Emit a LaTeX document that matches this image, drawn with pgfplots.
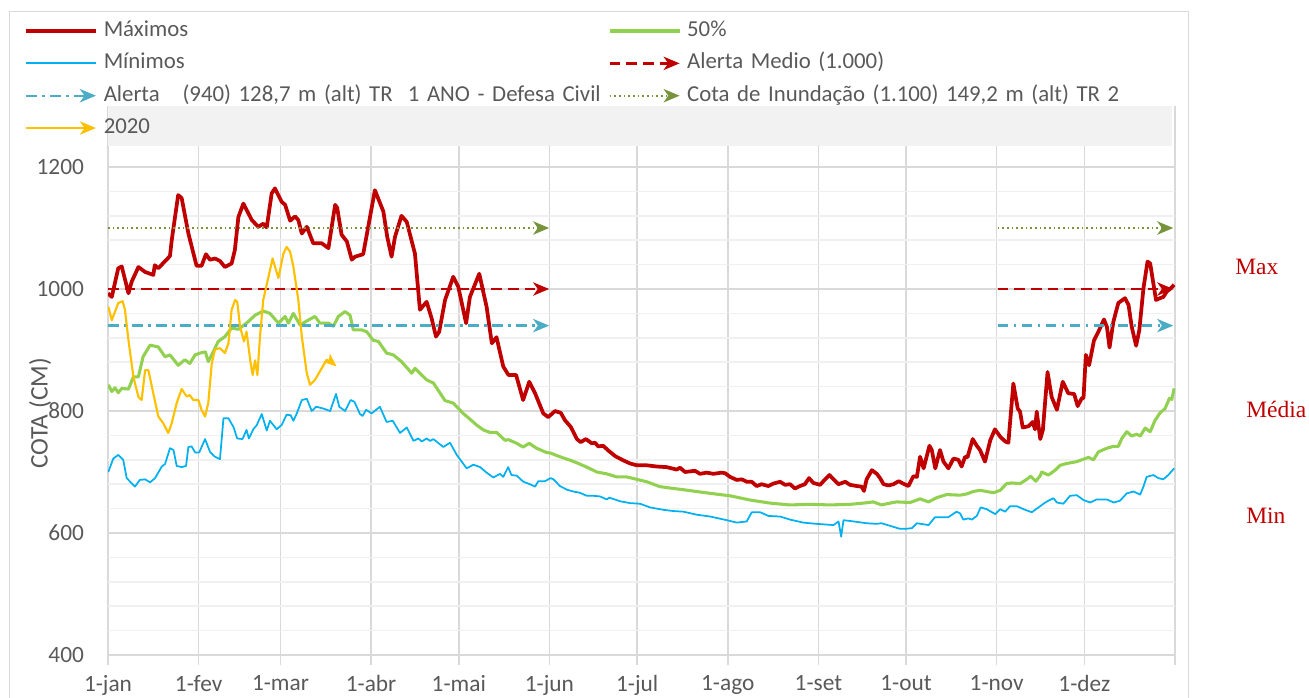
\documentclass[border=0pt]{standalone}
\usepackage{fontspec}
\setmainfont{Carlito}
\newfontfamily\timesf{Liberation Serif}
\usepackage{pgfplots}
\pgfplotsset{compat=1.18}
\usetikzlibrary{arrows.meta}
\definecolor{maxred}{HTML}{C00000}
\definecolor{medgreen}{HTML}{92D050}
\definecolor{minblue}{HTML}{00B0F0}
\definecolor{yr2020}{HTML}{FFC000}
\definecolor{alertblue}{HTML}{4BACC6}
\definecolor{olivec}{HTML}{77933C}
\definecolor{gridmajor}{HTML}{D9D9D9}
\definecolor{gridminor}{HTML}{F0F0F0}
\definecolor{legbg}{HTML}{F2F2F2}
\definecolor{txtgray}{HTML}{595959}
\begin{document}
\begin{tikzpicture}
\useasboundingbox (0,0) rectangle (981.75pt,522.75pt);
\draw[gridmajor, line width=0.75pt] (6.75pt,-5pt) rectangle (891pt,513.75pt);
\begin{axis}[
  at={(81pt,31.5pt)}, anchor=south west,
  scale only axis, width=800.25pt, height=411.75pt,
  xmin=0, xmax=365, ymin=400, ymax=1300,
  xtick={0,31,59,90,120,151,181,212,243,273,304,334,365},
  xticklabels={1-jan,1-fev,1-mar,1-abr,1-mai,1-jun,1-jul,1-ago,1-set,1-out,1-nov,1-dez,{}},
  ytick={400,600,800,1000,1200},
  minor y tick num=4,
  xmajorgrids, ymajorgrids, yminorgrids,
  major grid style={draw=gridmajor, line width=1.2pt},
  minor grid style={draw=gridminor, line width=1.2pt},
  axis line style={draw=none},
  tick align=outside, major tick length=7.5pt,
  xtick pos=bottom, ytick pos=left,
  x tick style={draw=gridmajor, line width=1.2pt},
  y tick style={draw=none},
  minor tick length=0pt,
  ticklabel style={font=\fontsize{17.5}{20}\selectfont, text=txtgray},
  yticklabel style={xshift=-7pt},
  xticklabel style={yshift=-4.5pt},
  /pgf/number format/assume math mode=true,
  /pgf/number format/1000 sep={},
  ylabel={COTA (CM)},
  ylabel style={at={(axis description cs:-0.0637,0.44)}, anchor=center, font=\fontsize{19}{22}\selectfont, text=txtgray},
  no markers,
  every axis plot/.append style={line join=round},
  legend columns=2,
  legend cell align=left,
  legend image code/.code={\draw[#1] (0pt,0pt) -- (52.5pt,0pt);},
  legend style={at={(axis description cs:-0.0787,1.156)}, anchor=north west,
    fill=none, draw=none, inner sep=0pt, outer sep=0pt,
    font=\fontsize{17.1}{20}\selectfont, text=txtgray,
    nodes={inner sep=0pt, text height=12pt, text depth=4pt, text width=358pt, align=left},
    row sep=8.25pt,
    /tikz/every odd column/.append style={column sep=4.5pt},
    /tikz/every even column/.append style={column sep=20.25pt}},
]
% Minimos
\addplot[forget plot, minblue, line width=1.3pt] coordinates {
(0.1,700) (1.8,722) (3.5,728) (5.2,720) (6.4,690) (9.2,676) (10.9,687) (12.7,688) (14.4,683) (16.1,690) (18.4,709) (19.5,713) (21.2,739) (22.4,736) (23.5,710) (25.2,708) (26.7,710) (27.5,741) (28.6,742) (29.8,732) (31.2,732) (33.2,754) (34.9,733) (36.6,725) (38.3,721) (39.5,788) (41.2,788) (42.9,774) (44.2,755) (46,754) (47.4,769) (48.2,755) (49.7,770) (50.9,777) (52.6,795) (54.3,768) (55.4,784) (57.7,770) (59.4,777) (61.1,794) (62.5,793) (63.4,784) (64.5,795) (66.3,818) (68,820) (69.7,800) (71.2,807) (73.7,804) (76,800) (78,828) (79.1,807) (81.1,800) (83,818) (84.3,815) (86.2,795) (87.1,792) (88.3,802) (90.2,796) (93,807) (95.3,782) (97.4,784) (99.9,764) (102.2,773) (104.5,751) (106.2,755) (107.3,750) (109,755) (110.2,751) (111.3,754) (114.7,741) (117,748) (119.3,728) (122.7,706) (125,712) (127.3,708) (129.5,699) (131.8,691) (134.1,697) (135.2,692) (136.9,708) (138,695) (139.8,694) (142.1,684) (144.3,680) (146.1,676) (147.2,685) (149.5,685) (151.4,690) (152.4,688) (154.6,677) (157,671) (159.2,668) (161.4,666) (163.8,661) (166,661) (168.3,660) (170.6,655) (171.5,658) (175.2,652) (178.6,649) (182,648) (185.4,642) (190,638) (193.4,636) (196.8,635) (201.4,630) (206,627) (211.7,621) (215.1,617) (218.5,619) (220.2,634) (223.1,634) (225.9,628) (229.9,627) (233.3,622) (237.9,617) (242.4,615) (248.2,613) (249.9,619) (250.8,594) (251.6,621) (255,619) (259.5,616) (262.9,615) (264.6,616) (267.4,612) (270.8,607) (273.2,607) (275,608) (276.7,616) (280.7,613) (282.9,626) (287.5,626) (290.3,635) (291.5,632) (292.6,622) (294.3,624) (295.5,622) (297.2,628) (298.5,642) (300.6,639) (303.5,631) (305.2,639) (306.9,635) (308.6,644) (310.9,644) (313.2,639) (316,634) (317.7,640) (318.9,644) (320,648) (321.7,653) (323.4,657) (324.6,650) (326.8,648) (329.1,661) (331.4,662) (333.7,654) (336,650) (338.2,655) (341.7,655) (344,650) (346.2,653) (348.5,665) (350.8,668) (353.1,663) (354.2,676) (355.3,692) (357.6,695) (359.3,690) (361,688) (362.7,695) (364.7,706)
};
% 50%
\addplot[forget plot, medgreen, line width=2.3pt] coordinates {
(0.1,843) (1.3,832) (2.4,838) (3.5,830) (4.7,837) (7,836) (8.7,856) (10.4,856) (12,889) (14.4,908) (17.2,905) (19.5,889) (21.2,892) (24,875) (26.3,884) (28,878) (29.8,892) (31.5,895) (33.3,897) (34.3,881) (36,897) (37.7,914) (40,922) (42.3,936) (44.6,934) (47.4,944) (50.3,957) (53.1,964) (55.4,960) (58.3,944) (60.6,955) (61.7,944) (63.4,960) (65.7,941) (68.5,949) (70.8,955) (72.5,944) (75.4,944) (77.1,939) (78.8,955) (81.1,963) (82.8,957) (83.9,933) (86.8,933) (88.5,930) (90.7,916) (92.5,914) (95.3,895) (97.6,892) (100.4,881) (103.9,862) (105,870) (107.3,859) (109,851) (111.3,846) (115.3,817) (118.1,813) (121.5,796) (123,790) (126.1,777) (128.4,769) (130.6,765) (132.9,765) (135.8,752) (137,753) (139.8,747) (142,741) (144.1,747) (146.6,739) (150,732) (151.4,731) (154.6,725) (158.3,719) (160.4,715) (163.8,708) (167.2,700) (170.6,697) (174,692) (177.4,692) (180.9,688) (184.3,684) (188.8,676) (193.4,673) (196.8,671) (201.4,668) (206,665) (212.8,661) (219.7,654) (226.5,649) (233.3,646) (240.2,647) (247,646) (253.8,647) (258.4,649) (261.8,651) (264.6,646) (267.5,649) (269.8,651) (274.4,650) (277.8,656) (280.7,651) (283.5,658) (286.9,663) (291.5,662) (293.7,664) (296,668) (298.3,670) (300.6,668) (302.9,666) (305.2,670) (307.4,681) (309.1,682) (312,681) (314.3,688) (315.6,693) (317.4,685) (318.9,694) (319.4,700) (321.7,695) (324,703) (325.7,711) (328,714) (331.4,717) (333.7,721) (335.4,724) (337.1,720) (338.8,733) (341.7,739) (343.9,742) (345.6,742) (346.8,755) (348.5,766) (350.2,759) (351.9,762) (353.1,759) (354.8,772) (356.5,766) (358.2,785) (359.9,797) (361.6,804) (363.1,821) (363.9,819) (364.7,837)
};
% Maximos
\addplot[forget plot, maxred, line width=2.8pt] coordinates {
(0,993) (1.3,987) (3.5,1034) (4.7,1037) (7,993) (8.1,1012) (10.4,1036) (12.7,1028) (15.5,1023) (16,1039) (17.2,1034) (21.2,1054) (21.8,1080) (24,1154) (25.2,1149) (27.5,1091) (30.3,1038) (32,1038) (33.5,1057) (34.9,1048) (36.6,1050) (38.3,1046) (40,1036) (42.3,1042) (43.4,1064) (44.6,1118) (46.3,1140) (49.2,1113) (51.4,1102) (53.1,1107) (54.3,1101) (56,1157) (57.1,1165) (59.4,1143) (60.6,1138) (62.3,1112) (64,1119) (65.1,1113) (66.3,1091) (68,1102) (70.2,1075) (73.1,1075) (75.4,1067) (77.7,1138) (78.4,1133) (79.9,1089) (81.7,1078) (83.4,1048) (84.5,1053) (87.3,1057) (91.3,1162) (94.2,1127) (95.5,1086) (97,1053) (98.2,1086) (100.4,1120) (102.2,1110) (105,1058) (106.7,966) (109,979) (110.7,952) (112.2,922) (113.3,930) (115.3,982) (118.1,1020) (119.8,1004) (122.5,944) (123.8,987) (127,1025) (129.5,971) (131.3,911) (132.9,921) (135.2,873) (137,859) (139.6,859) (142,818) (144.1,848) (146.1,829) (148.9,796) (150.6,790) (152.9,800) (154.9,797) (156.3,785) (158.3,774) (160.4,754) (161.7,749) (163.5,754) (165.5,747) (166.6,748) (167.7,742) (169.4,743) (171.2,735) (173.5,726) (176.3,719) (178.6,714) (180.9,711) (184.3,711) (187.7,709) (191.1,708) (194.5,704) (195.7,707) (197.4,700) (200.8,702) (202.5,697) (204.8,699) (207.1,697) (210,699) (211.1,698) (212.8,692) (215.1,687) (216.8,688) (218.5,684) (220.2,684) (221.9,677) (223.6,680) (225.9,677) (227.6,681) (229.9,684) (231.6,679) (233.3,680) (235,673) (236.7,677) (238.4,680) (239.8,690) (241.3,682) (243.6,679) (245.3,688) (246.8,695) (248.2,688) (249.9,680) (252.2,684) (253.8,679) (256.1,677) (257.8,676) (258.6,669) (259.5,688) (261.3,703) (263,697) (264.1,690) (265.3,680) (267,678) (268.7,680) (270.5,685) (272,681) (273.8,677) (275.5,693) (276.7,692) (277.8,725) (279,706) (281,743) (281.8,736) (283,706) (284.6,736) (285.8,717) (287.5,706) (289.2,722) (290.9,720) (292,709) (293.2,725) (294,724) (295.8,754) (297.2,743) (298.3,736) (300,717) (301.8,752) (303.4,770) (305.2,758) (306.9,750) (308,748) (309.7,845) (311.2,804) (312,799) (312.9,773) (314.9,775) (316.3,782) (317.1,770) (317.7,799) (318.9,754) (319.8,769) (321.4,864) (322.8,823) (324.6,802) (326.6,848) (328.5,829) (330.5,828) (331.7,808) (333.1,821) (333.7,821) (334.5,892) (335.6,875) (337.3,916) (338.8,930) (340.7,950) (341.7,938) (342.6,904) (343.9,946) (345.6,977) (347.9,985) (349.1,974) (350.2,938) (351.7,907) (352.8,933) (354.2,1001) (355.6,1045) (356.5,1042) (358.5,982) (359.9,985) (361,987) (362.2,996) (363.3,1000) (364.7,1007)
};
% Thresholds
\addplot[forget plot, olivec, line width=1.6pt, dash pattern=on 1.3pt off 2.2pt, -{Stealth[length=12pt,width=10pt,inset=3.5pt]}] coordinates {(0,1100) (150.9,1100)};
\addplot[forget plot, olivec, line width=1.6pt, dash pattern=on 1.3pt off 2.2pt, -{Stealth[length=12pt,width=10pt,inset=3.5pt]}] coordinates {(304.3,1100) (364.4,1100)};
\addplot[forget plot, maxred, line width=1.8pt, dash pattern=on 8pt off 4.5pt, -{Stealth[length=12pt,width=10pt,inset=3.5pt]}] coordinates {(0,1000) (150.9,1000)};
\addplot[forget plot, maxred, line width=1.8pt, dash pattern=on 8pt off 4.5pt, -{Stealth[length=12pt,width=10pt,inset=3.5pt]}] coordinates {(304.3,1000) (364.4,1000)};
\addplot[forget plot, alertblue, line width=1.8pt, dash pattern=on 8pt off 4pt on 2pt off 4pt, -{Stealth[length=12pt,width=10pt,inset=3.5pt]}] coordinates {(0,940) (150.9,940)};
\addplot[forget plot, alertblue, line width=1.8pt, dash pattern=on 8pt off 4pt on 2pt off 4pt, -{Stealth[length=12pt,width=10pt,inset=3.5pt]}] coordinates {(304.3,940) (364.4,940)};
% 2020
\addplot[forget plot, yr2020, line width=1.6pt, -{Stealth[length=10pt,width=8pt,inset=2.5pt]}] coordinates {
(0.1,971) (1.3,949) (3.5,977) (5,980) (5.8,966) (7,916) (8.7,856) (10.4,823) (11.5,818) (12.7,867) (13.8,867) (15.5,829) (17.2,791) (18.9,780) (20.6,764) (21.8,780) (23.5,813) (25.2,836) (26.9,824) (28,826) (29.2,818) (30.9,818) (32,802) (33.2,791) (34.3,813) (35.5,878) (36.6,901) (38.3,903) (40,895) (41.2,911) (42.3,966) (43.5,982) (44.2,979) (45.2,938) (46.5,914) (47.4,930) (48.8,878) (49.5,859) (50.3,883) (51.1,859) (52,922) (53.1,982) (54.8,1018) (56.3,1050) (57.1,1037) (58.3,1018) (60,1058) (61.1,1069) (62.3,1061) (63.4,1037) (65.1,982) (66.3,922) (68,862) (69.1,843) (70.8,851) (73.1,870) (74.8,884) (76.5,880) (78.2,873)
};
% legend background box
\fill[legbg] (axis description cs:-0.0881,1.1639) rectangle (axis description cs:0.9972,0.9271);
% legend entries
\addlegendimage{maxred, line width=2.8pt}
\addlegendentry{Máximos}
\addlegendimage{medgreen, line width=2.3pt}
\addlegendentry{50\%}
\addlegendimage{minblue, line width=1.3pt}
\addlegendentry{Mínimos}
\addlegendimage{maxred, line width=1.8pt, dash pattern=on 8pt off 4.5pt, -{Stealth[length=12pt,width=10pt,inset=3.5pt]}}
\addlegendentry{Alerta Medio (1.000)}
\addlegendimage{alertblue, line width=1.8pt, dash pattern=on 8pt off 4pt on 2pt off 4pt, -{Stealth[length=12pt,width=10pt,inset=3.5pt]}}
\addlegendentry{\makebox[0pt][l]{Alerta\ \ \ (940) 128,7 m (alt) TR\ \ 1 ANO - Defesa Civil}}
\addlegendimage{olivec, line width=1.6pt, dash pattern=on 1.3pt off 2.2pt, -{Stealth[length=12pt,width=10pt,inset=3.5pt]}}
\addlegendentry{\makebox[0pt][l]{Cota de Inundação (1.100) 149,2 m (alt) TR 2}}
\addlegendimage{yr2020, line width=1.6pt, -{Stealth[length=12pt,width=10pt,inset=3.5pt]}}
\addlegendentry{2020}
\end{axis}
\node[anchor=base west, text=maxred, font=\timesf\fontsize{17.6}{20}\selectfont, inner sep=0pt] at (926.25pt,316.5pt) {Max};
\node[anchor=base west, text=maxred, font=\timesf\fontsize{17.6}{20}\selectfont, inner sep=0pt] at (934.5pt,210pt) {Média};
\node[anchor=base west, text=maxred, font=\timesf\fontsize{17.6}{20}\selectfont, inner sep=0pt] at (934.5pt,130.5pt) {Min};
\end{tikzpicture}
\end{document}
